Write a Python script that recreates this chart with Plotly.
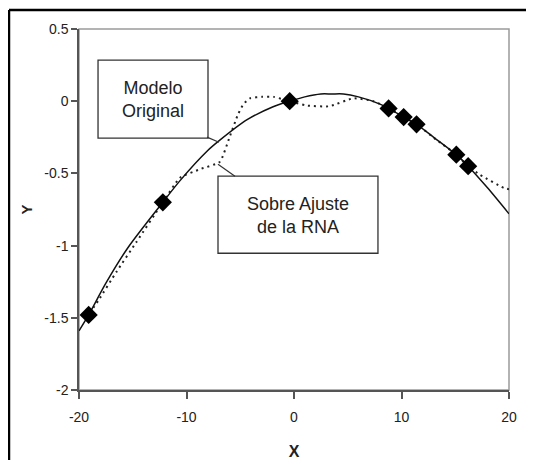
import plotly.graph_objects as go

# --- data ---
model_x = [-20, -19.1, -17.5, -15.5, -12.2, -10.6, -8.0, -6.9, -4.4, -2.0, -0.4, 1.0, 2.5, 3.5,
           4.6, 6.0, 8.0, 8.8, 10.2, 11.4, 13.0, 15.1, 16.2, 18.0, 20.0]
model_y = [-1.59, -1.48, -1.26, -1.02, -0.70, -0.55, -0.34, -0.27, -0.13, -0.04, 0.0, 0.03, 0.05, 0.05,
           0.05, 0.03, -0.02, -0.05, -0.11, -0.16, -0.25, -0.37, -0.45, -0.60, -0.78]

ann_x = [-19.3, -18.2, -16.5, -14.7, -12.2, -10.6, -8.7, -6.9, -6.0, -5.2, -4.7, -4.1, -3.0, -1.9,
         -0.4, 1.2, 3.3, 5.5, 7.4, 8.8, 10.2, 11.4, 13.3, 15.1, 16.2, 17.3, 19.5, 20.0]
ann_y = [-1.50, -1.38, -1.18, -0.98, -0.70, -0.53, -0.47, -0.42, -0.25, -0.09, -0.02, 0.02, 0.03, 0.03,
         0.0, -0.03, -0.035, 0.02, 0.0, -0.05, -0.11, -0.16, -0.27, -0.37, -0.45, -0.51, -0.60, -0.61]

pts_x = [-19.1, -12.2, -0.4, 8.8, 10.2, 11.4, 15.1, 16.2]
pts_y = [-1.48, -0.70, 0.0, -0.05, -0.11, -0.16, -0.37, -0.45]

x_ticks = [-20, -10, 0, 10, 20]
x_tick_text = ["-20", "-10", "0", "10", "20"]
y_ticks = [0.5, 0, -0.5, -1, -1.5, -2]
y_tick_text = ["0.5", "0", "-0.5", "-1", "-1.5", "-2"]

label_model = "Modelo<br>Original"
label_ann = "Sobre Ajuste<br>de la RNA"

SANS = "Liberation Sans, Arial, sans-serif"

fig = go.Figure()
fig.add_trace(go.Scatter(x=ann_x, y=ann_y, mode="lines",
                         line=dict(color="#222", width=2, dash="2px,4px", shape="spline", smoothing=0.5),
                         showlegend=False, hoverinfo="skip"))
fig.add_trace(go.Scatter(x=model_x, y=model_y, mode="lines",
                         line=dict(color="#111", width=1.5, shape="spline", smoothing=0.8),
                         showlegend=False, hoverinfo="skip"))
fig.add_trace(go.Scatter(x=pts_x, y=pts_y, mode="markers",
                         marker=dict(symbol="diamond", size=14, color="black"),
                         showlegend=False, hoverinfo="skip"))

shapes = [
    # black frame lines (left and top of the picture)
    dict(type="line", xref="paper", yref="paper", x0=-0.1628, x1=-0.1628, y0=-0.4, y1=1.0526,
         line=dict(color="black", width=2.5), layer="below"),
    dict(type="line", xref="paper", yref="paper", x0=-0.1628, x1=1.2, y0=1.0526, y1=1.0526,
         line=dict(color="black", width=2.5), layer="below"),
    # light grey frame of the plot area
    dict(type="rect", xref="paper", yref="paper", x0=0, x1=1, y0=0, y1=1,
         line=dict(color="#9a9a9a", width=1.5), fillcolor="rgba(0,0,0,0)", layer="below"),
    # annotation boxes
    dict(type="rect", xref="x", yref="y", x0=-18.23, x1=-8.0, y0=-0.256, y1=0.284,
         line=dict(color="#333", width=1.3), fillcolor="white", layer="above"),
    dict(type="rect", xref="x", yref="y", x0=-7.07, x1=7.81, y0=-1.053, y1=-0.519,
         line=dict(color="#333", width=1.3), fillcolor="white", layer="above"),
    # leader lines
    dict(type="line", xref="x", yref="y", x0=-8.09, y0=-0.249, x1=-6.98, y1=-0.284,
         line=dict(color="#333", width=1.2)),
    dict(type="line", xref="x", yref="y", x0=-7.07, y0=-0.436, x1=-5.49, y1=-0.519,
         line=dict(color="#333", width=1.2)),
]

annotations = [
    dict(x=-13.1, y=0.014, xref="x", yref="y", text=label_model, showarrow=False,
         font=dict(family=SANS, size=18, color="#222"), align="center"),
    dict(x=0.37, y=-0.79, xref="x", yref="y", text=label_ann, showarrow=False,
         font=dict(family=SANS, size=18, color="#222"), align="center"),
]

fig.update_layout(
    width=526, height=452,
    margin=dict(l=71, r=25, t=21, b=70, autoexpand=False),
    paper_bgcolor="white",
    plot_bgcolor="white",
    shapes=shapes,
    annotations=annotations,
    xaxis=dict(range=[-20, 20], tickvals=x_ticks, ticktext=x_tick_text,
               showgrid=False, zeroline=False, showline=True, linecolor="#555", linewidth=1.5,
               ticks="outside", ticklen=7, tickcolor="#555", tickwidth=1.5,
               tickfont=dict(family=SANS, size=14, color="#222"), ticklabelstandoff=6,
               title=dict(text="<b>X</b>", font=dict(family=SANS, size=16, color="#222"), standoff=24)),
    yaxis=dict(range=[-2, 0.5], tickvals=y_ticks, ticktext=y_tick_text,
               showgrid=False, zeroline=False, showline=True, linecolor="#555", linewidth=1.5,
               ticks="outside", ticklen=6, tickcolor="#555", tickwidth=1.5,
               tickfont=dict(family=SANS, size=14, color="#222"),
               title=dict(text="<b>Y</b>", font=dict(family=SANS, size=15, color="#222"), standoff=8)),
)

fig.write_html("out.html")
